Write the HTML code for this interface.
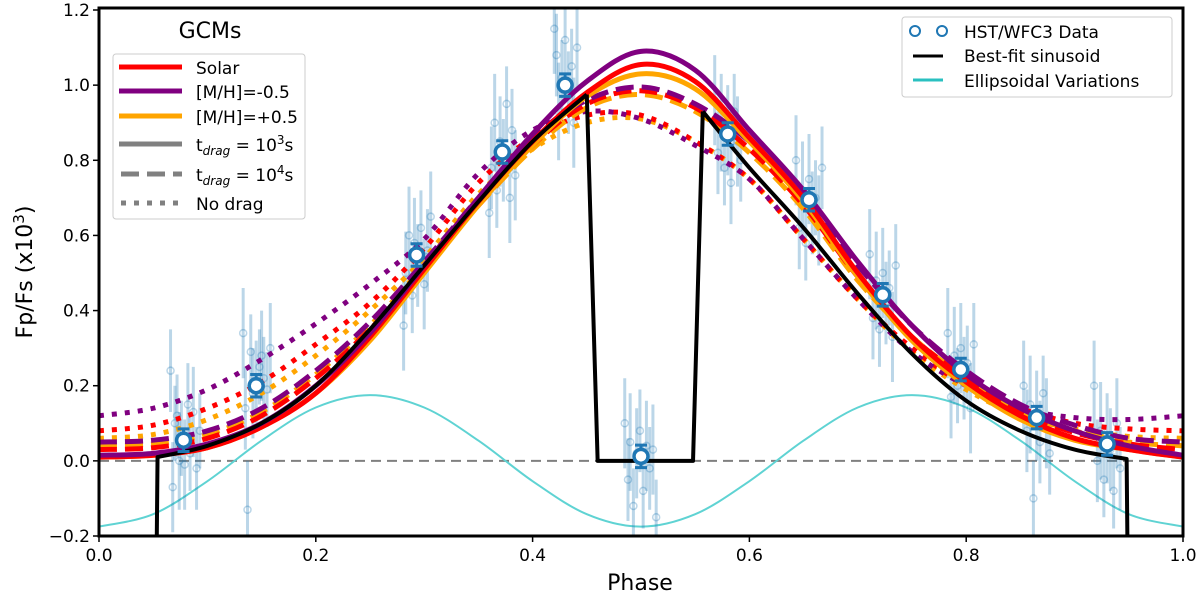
<!DOCTYPE html>
<html><head><meta charset="utf-8"><style>
html,body{margin:0;padding:0;background:#fff;}
svg{display:block;font-family:"DejaVu Sans","Liberation Sans",sans-serif;}
</style></head><body>
<svg id="chart" width="1200" height="601" viewBox="0 0 1200 601">
<defs><clipPath id="plotclip"><rect x="99" y="8" width="1084" height="528"/></clipPath></defs>
<g id="plot" clip-path="url(#plotclip)"></g>
<g id="axes"></g>
</svg>
<script>
// ---- data ----
const modelPhases = [0,0.05,0.1,0.15,0.2,0.25,0.3,0.35,0.4,0.45,0.5,0.55,0.6,0.65,0.7,0.75,0.8,0.85,0.9,0.95,1];
const solarSolid   = [0.01,0.015,0.035,0.09,0.18,0.33,0.51,0.69,0.85,0.98,1.055,1.01,0.86,0.70,0.50,0.33,0.21,0.12,0.06,0.03,0.01];
const purpleSolid  = [0.015,0.02,0.045,0.1,0.2,0.34,0.52,0.70,0.87,1.01,1.09,1.04,0.88,0.72,0.53,0.36,0.23,0.14,0.08,0.04,0.015];
const orangeSolid  = [0.01,0.015,0.035,0.09,0.18,0.32,0.5,0.68,0.84,0.97,1.03,0.99,0.85,0.69,0.49,0.32,0.2,0.11,0.055,0.03,0.01];
const solarDash    = [0.03,0.035,0.06,0.12,0.22,0.35,0.51,0.68,0.84,0.95,0.985,0.94,0.83,0.68,0.49,0.33,0.22,0.13,0.075,0.045,0.03];
const purpleDash   = [0.05,0.055,0.08,0.14,0.24,0.37,0.53,0.7,0.86,0.96,0.995,0.95,0.85,0.70,0.52,0.36,0.24,0.15,0.095,0.06,0.05];
const orangeDash   = [0.04,0.045,0.07,0.13,0.23,0.36,0.52,0.68,0.83,0.94,0.975,0.93,0.82,0.67,0.48,0.33,0.22,0.13,0.08,0.05,0.04];
const purpleDot    = [0.12,0.14,0.19,0.27,0.365,0.47,0.59,0.765,0.88,0.93,0.91,0.84,0.75,0.59,0.43,0.29,0.2,0.14,0.115,0.11,0.12];
const solarDot     = [0.08,0.095,0.14,0.21,0.31,0.42,0.565,0.74,0.86,0.92,0.92,0.85,0.75,0.59,0.43,0.3,0.2,0.14,0.1,0.085,0.08];
const orangeDot    = [0.06,0.07,0.11,0.18,0.28,0.4,0.54,0.71,0.83,0.9,0.91,0.85,0.75,0.59,0.43,0.29,0.19,0.12,0.085,0.065,0.06];
const ellipPhases  = [0,0.05,0.1,0.15,0.2,0.25,0.3,0.35,0.4,0.45,0.5,0.55,0.6,0.65,0.7,0.75,0.8,0.85,0.9,0.95,1];
const ellipValues  = [-0.175,-0.142,-0.054,0.054,0.142,0.175,0.142,0.054,-0.054,-0.142,-0.175,-0.142,-0.054,0.054,0.142,0.175,0.142,0.054,-0.054,-0.142,-0.175];
const fitPhases    = [0.053,0.054,0.1,0.15,0.2,0.25,0.3,0.35,0.4,0.45];
const fitValues    = [-0.3,0.01,0.04,0.1,0.2,0.35,0.52,0.69,0.85,0.975];
const fitPhases2   = [0.557,0.6,0.65,0.7,0.75,0.8,0.85,0.9,0.948,0.949];
const fitValues2   = [0.93,0.78,0.62,0.445,0.285,0.16,0.08,0.03,0.005,-0.3];
const eclPhases    = [0.45,0.46,0.548,0.557];
const eclValues    = [0.975,0.0,0.0,0.93];
const binPhases = [0.078,0.145,0.293,0.372,0.43,0.5,0.58,0.655,0.723,0.795,0.865,0.93];
const binValues = [0.055,0.2,0.548,0.822,1.0,0.012,0.87,0.695,0.442,0.243,0.115,0.045];
const binErrors = [0.03,0.03,0.03,0.03,0.03,0.03,0.03,0.03,0.03,0.03,0.03,0.03];
const rawPhases = [
0.066,0.068,0.07,0.072,0.074,0.076,0.079,0.082,0.084,0.087,0.09,0.093,
0.133,0.135,0.137,0.14,0.142,0.145,0.148,0.15,0.152,0.155,0.158,
0.281,0.283,0.286,0.289,0.291,0.294,0.297,0.3,0.303,0.306,
0.36,0.362,0.365,0.367,0.37,0.373,0.376,0.379,0.381,0.384,
0.42,0.422,0.424,0.427,0.43,0.433,0.436,0.438,0.441,
0.485,0.488,0.49,0.493,0.496,0.499,0.502,0.505,0.508,0.511,0.514,
0.568,0.571,0.574,0.577,0.58,0.583,0.586,0.589,0.592,
0.643,0.646,0.649,0.652,0.655,0.658,0.661,0.664,0.667,
0.711,0.714,0.717,0.72,0.723,0.726,0.729,0.732,0.735,
0.783,0.786,0.789,0.792,0.795,0.798,0.801,0.804,0.807,
0.853,0.856,0.859,0.862,0.865,0.868,0.871,0.874,0.877,
0.918,0.921,0.924,0.927,0.93,0.933,0.936,0.939,0.942];
const rawValues = [
0.24,-0.07,0.1,0.12,0.0,0.06,-0.01,0.15,0.02,0.13,-0.02,0.08,
0.34,0.14,-0.13,0.29,0.18,0.21,0.25,0.28,0.22,0.19,0.3,
0.36,0.5,0.6,0.44,0.58,0.52,0.62,0.47,0.56,0.65,
0.66,0.78,0.9,0.72,0.85,0.8,0.95,0.7,0.88,0.76,
1.15,1.08,0.93,1.02,1.12,0.98,1.05,0.9,1.1,
0.1,-0.05,0.05,-0.12,0.02,0.08,-0.08,0.04,-0.02,0.03,-0.15,
0.96,0.82,0.9,0.78,0.88,0.74,0.93,0.85,0.8,
0.8,0.62,0.72,0.58,0.75,0.66,0.7,0.64,0.78,
0.55,0.38,0.48,0.35,0.5,0.42,0.46,0.33,0.52,
0.34,0.17,0.28,0.2,0.3,0.22,0.26,0.14,0.31,
0.2,0.08,0.15,-0.1,0.12,0.05,0.18,0.1,0.02,
0.2,0.0,0.08,-0.05,0.06,0.03,-0.08,0.1,-0.02];
const rawErrors = [0.11,0.12,0.1,0.11,0.13,0.1,0.12,0.11,0.1,0.12,0.11,0.1,
0.12,0.11,0.13,0.1,0.12,0.11,0.1,0.12,0.11,0.1,0.12,
0.12,0.11,0.13,0.1,0.12,0.11,0.1,0.12,0.11,0.12,
0.12,0.11,0.13,0.1,0.12,0.11,0.1,0.12,0.11,0.12,
0.12,0.11,0.13,0.1,0.12,0.11,0.1,0.12,0.11,
0.12,0.11,0.13,0.1,0.12,0.11,0.1,0.12,0.11,0.12,0.1,
0.12,0.11,0.13,0.1,0.12,0.11,0.1,0.12,0.11,
0.12,0.11,0.13,0.1,0.12,0.11,0.1,0.12,0.11,
0.12,0.11,0.13,0.1,0.12,0.11,0.1,0.12,0.11,
0.12,0.11,0.13,0.1,0.12,0.11,0.1,0.12,0.11,
0.12,0.11,0.13,0.1,0.12,0.11,0.1,0.12,0.11,
0.12,0.11,0.13,0.1,0.12,0.11,0.1,0.12,0.11];
const xTicks = [0,0.2,0.4,0.6,0.8,1.0];
const xTickLabels = ["0.0","0.2","0.4","0.6","0.8","1.0"];
const yTicks = [-0.2,0,0.2,0.4,0.6,0.8,1.0,1.2];
const yTickLabels = ["\u22120.2","0.0","0.2","0.4","0.6","0.8","1.0","1.2"];

// ---- scales ----
const X0=99,X1=1183,Y0=536,Y1=10;
const sx = p => X0 + p*(X1-X0);
const sy = v => Y0 - (v+0.2)/1.4*(Y0-Y1);
const NS="http://www.w3.org/2000/svg";
const plot=document.getElementById('plot'), axes=document.getElementById('axes');
function mk(tag,attrs,parent){const e=document.createElementNS(NS,tag);for(const k in attrs)e.setAttribute(k,attrs[k]);parent.appendChild(e);return e;}
function smoothPath(ph,vals){
  const P=ph.map((p,i)=>[sx(p),sy(vals[i])]);
  let d=`M${P[0][0]},${P[0][1]}`;
  for(let i=0;i<P.length-1;i++){
    const p0=P[Math.max(0,i-1)],p1=P[i],p2=P[i+1],p3=P[Math.min(P.length-1,i+2)];
    const c1=[p1[0]+(p2[0]-p0[0])/6,p1[1]+(p2[1]-p0[1])/6];
    const c2=[p2[0]-(p3[0]-p1[0])/6,p2[1]-(p3[1]-p1[1])/6];
    d+=` C${c1[0]},${c1[1]} ${c2[0]},${c2[1]} ${p2[0]},${p2[1]}`;
  }
  return d;
}
function linePath(ph,vals){return ph.map((p,i)=>(i?'L':'M')+sx(p)+','+sy(vals[i])).join(' ');}

let z=mk('line',{x1:X0,x2:X1,y1:sy(0),y2:sy(0),stroke:'#808080','stroke-width':2,'stroke-dasharray':'10,6'},plot);



let el=mk('path',{d:smoothPath(ellipPhases,ellipValues),fill:'none',stroke:'#5fd3d3','stroke-width':2},plot);



const rawG=mk('g',{},plot);


rawPhases.forEach((p,i)=>{
  const x=sx(p),y=sy(rawValues[i]);
  let l=mk('line',{x1:x,x2:x,y1:sy(rawValues[i]-rawErrors[i]),y2:sy(rawValues[i]+rawErrors[i]),stroke:'rgba(31,119,180,0.3)','stroke-width':3},rawG);
  
  
  let c=mk('circle',{cx:x,cy:y,r:3.5,fill:'none',stroke:'rgba(31,119,180,0.3)','stroke-width':1.5},rawG);
  
  
});

const models=[
 [orangeDot,'#ffa500','5,8','orange-nodrag'],[solarDot,'#ff0000','5,8','solar-nodrag'],[purpleDot,'#800080','5,8','purple-nodrag'],
 [orangeDash,'#ffa500','18,8','orange-tdrag1e4'],[solarDash,'#ff0000','18,8','solar-tdrag1e4'],[purpleDash,'#800080','18,8','purple-tdrag1e4'],
 [orangeSolid,'#ffa500','','orange-tdrag1e3'],[solarSolid,'#ff0000','','solar-tdrag1e3'],[purpleSolid,'#800080','','purple-tdrag1e3']];
models.forEach(m=>{
  const a={d:smoothPath(modelPhases,m[0]),fill:'none',stroke:m[1],'stroke-width':5};
  if(m[2])a['stroke-dasharray']=m[2];
  let p=mk('path',a,plot);
  
  
});

const fitG=mk('g',{fill:'none',stroke:'#000','stroke-width':4,'stroke-linejoin':'round'},plot);


let f1=mk('path',{d:linePath(fitPhases.slice(0,2),fitValues.slice(0,2))+' '+smoothPath(fitPhases.slice(1),fitValues.slice(1)).replace('M','L')},fitG);


let f2=mk('path',{d:linePath(eclPhases,eclValues)},fitG);


let f3=mk('path',{d:smoothPath(fitPhases2.slice(0,-1),fitValues2.slice(0,-1))+' L'+sx(fitPhases2[9])+','+sy(fitValues2[9])},fitG);



const binG=mk('g',{},plot);


binPhases.forEach((p,i)=>{
  const x=sx(p),y=sy(binValues[i]),yt=sy(binValues[i]+binErrors[i]),yb=sy(binValues[i]-binErrors[i]);
  let e=mk('path',{d:`M${x},${yt}L${x},${yb}M${x-6},${yt}L${x+6},${yt}M${x-6},${yb}L${x+6},${yb}`,stroke:'#1f77b4','stroke-width':3,fill:'none'},binG);
  
  
  let c=mk('circle',{cx:x,cy:y,r:7,fill:'#fff',stroke:'#1f77b4','stroke-width':3.5},binG);
  
  
});

let fr=mk('rect',{x:X0,y:Y1-2,width:X1-X0,height:Y0-Y1+2,fill:'none',stroke:'#000','stroke-width':3},axes);


xTicks.forEach((t,i)=>{
  let l=mk('line',{x1:sx(t),x2:sx(t),y1:Y0,y2:Y0+6,stroke:'#000','stroke-width':1.5},axes);
  
  
  let tx=mk('text',{x:sx(t),y:Y0+25,'text-anchor':'middle','font-size':17},axes);
  tx.textContent=xTickLabels[i];
  
  
});
yTicks.forEach((t,i)=>{
  let l=mk('line',{x1:X0-6,x2:X0,y1:sy(t),y2:sy(t),stroke:'#000','stroke-width':1.5},axes);
  
  
  let tx=mk('text',{x:X0-9,y:sy(t)+6,'text-anchor':'end','font-size':17},axes);
  tx.textContent=yTickLabels[i];
  
  
});
</script>
<svg width="1200" height="601" style="position:absolute;left:0;top:0;font-family:'DejaVu Sans','Liberation Sans',sans-serif">
<text x="640" y="590" text-anchor="middle" font-size="22">Phase</text>
<text transform="translate(32,272) rotate(-90)" text-anchor="middle" font-size="22">Fp/Fs (x10<tspan dy="-8" font-size="15">3</tspan><tspan dy="8">)</tspan></text>
<text x="210" y="38" text-anchor="middle" font-size="22">GCMs</text>
<g>
<rect x="113" y="54" width="192" height="165" rx="3" fill="rgba(255,255,255,0.8)" stroke="#ccc"/>
<line x1="119" x2="182" y1="67" y2="67" stroke="#ff0000" stroke-width="5"/>
<text x="196" y="74" font-size="17">Solar</text>
<line x1="119" x2="182" y1="91" y2="91" stroke="#800080" stroke-width="5"/>
<text x="196" y="98" font-size="17">[M/H]=-0.5</text>
<line x1="119" x2="182" y1="116" y2="116" stroke="#ffa500" stroke-width="5"/>
<text x="196" y="123" font-size="17">[M/H]=+0.5</text>
<line x1="119" x2="182" y1="144" y2="144" stroke="#808080" stroke-width="5"/>
<text x="196" y="151" font-size="17">t<tspan font-size="12" font-style="italic" dy="4">drag</tspan><tspan dy="-4"> = 10</tspan><tspan dy="-7" font-size="12">3</tspan><tspan dy="7">s</tspan></text>
<line x1="121" x2="182" y1="174" y2="174" stroke="#808080" stroke-width="5" stroke-dasharray="18,8"/>
<text x="196" y="181" font-size="17">t<tspan font-size="12" font-style="italic" dy="4">drag</tspan><tspan dy="-4"> = 10</tspan><tspan dy="-7" font-size="12">4</tspan><tspan dy="7">s</tspan></text>
<line x1="121" x2="182" y1="203" y2="203" stroke="#808080" stroke-width="5" stroke-dasharray="5,8"/>
<text x="196" y="210" font-size="17">No drag</text>
</g>
<g>
<rect x="902" y="17" width="270" height="80" rx="3" fill="rgba(255,255,255,0.8)" stroke="#ccc"/>
<circle cx="915" cy="31" r="5" fill="none" stroke="#1f77b4" stroke-width="2"/>
<circle cx="942" cy="31" r="5" fill="none" stroke="#1f77b4" stroke-width="2"/>
<text x="964" y="38" font-size="17">HST/WFC3 Data</text>
<line x1="913" x2="943" y1="56" y2="56" stroke="#000" stroke-width="3"/>
<text x="964" y="62" font-size="17">Best-fit sinusoid</text>
<line x1="913" x2="943" y1="80" y2="80" stroke="#2ac0c0" stroke-width="3"/>
<text x="964" y="87" font-size="17">Ellipsoidal Variations</text>
</g>
</svg>
</body></html>
